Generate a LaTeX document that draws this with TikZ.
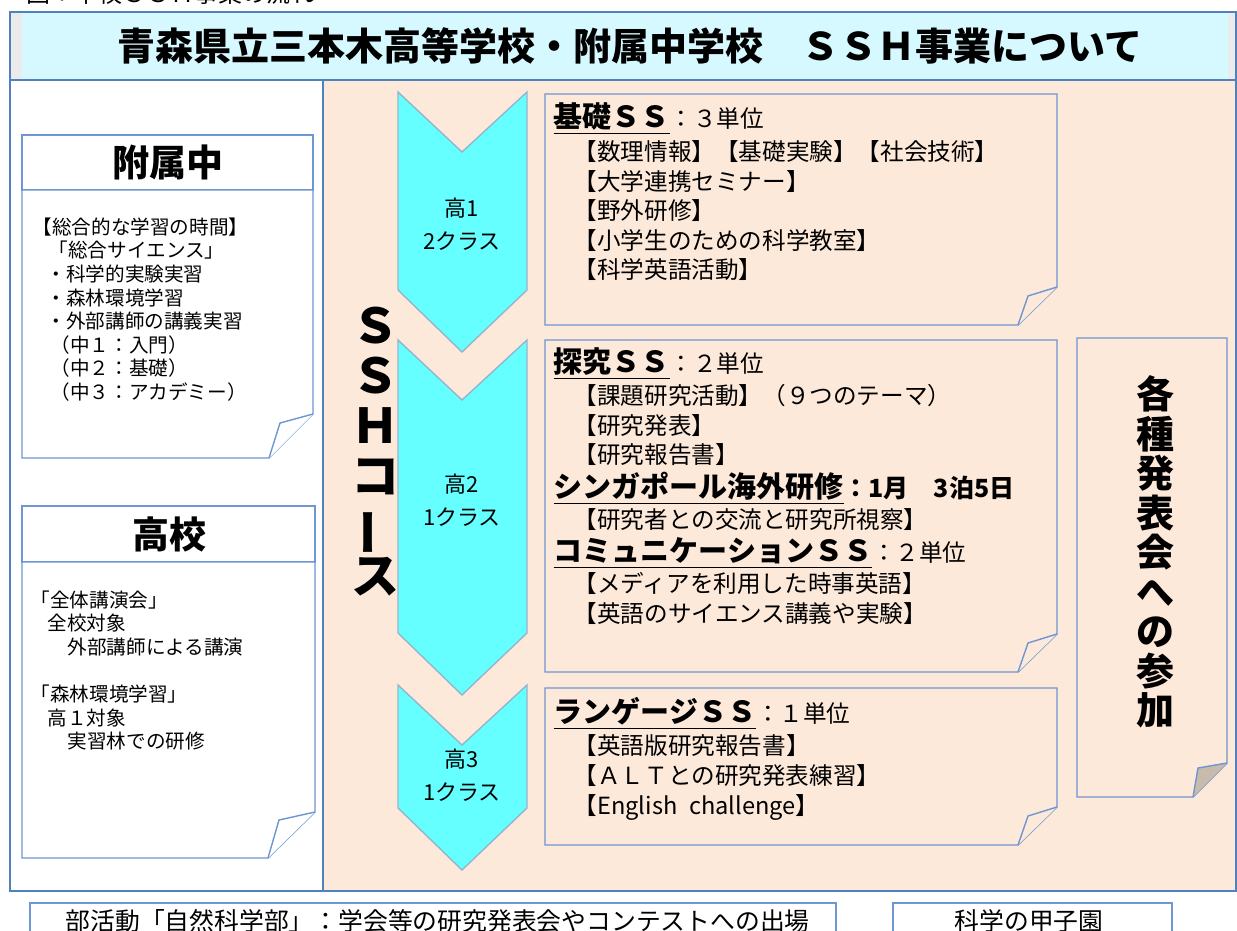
\documentclass[tikz,border=0pt]{standalone}
\usepackage{fontspec}
\setmainfont{Noto Sans CJK JP}
\usepackage{graphicx}
\usepackage{tikz}

\definecolor{peach}{RGB}{253,233,218}
\definecolor{titlecyan}{RGB}{214,249,255}
\definecolor{chevcyan}{RGB}{102,255,255}
\definecolor{chevline}{RGB}{150,180,205}
\definecolor{frameblue}{RGB}{79,129,189}
\definecolor{boxblue}{RGB}{110,150,210}
\definecolor{foldtan}{RGB}{200,186,172}

\tikzset{
  noteline/.style={draw=boxblue, line width=0.7pt},
  chevron/.style={fill=chevcyan, draw=chevline, line width=0.7pt},
  leftbody/.style={anchor=north west, align=left, inner sep=0pt, font=\fontsize{9.8}{11.8}\selectfont},
  rightbody/.style={anchor=north west, align=left, inner sep=0pt, font=\fontsize{11.8}{14.8}\selectfont},
  chevtext/.style={align=center, inner sep=0pt, font=\fontsize{11}{16.5}\selectfont},
  header/.style={inner sep=0pt, font=\fontsize{18.5}{20}\selectfont\bfseries},
}
\newcommand{\sshead}[1]{\underline{\fontsize{14.5}{14.8}\selectfont\bfseries #1}}

\begin{document}
\begin{tikzpicture}[x=0.5pt, y=-0.5pt, line width=0.7pt]
    \clip (0,0) rectangle (1237,931);
    \fill[white] (0,0) rectangle (1237,931);

    % caption, cut off at the top
    \node[anchor=base west, inner sep=0pt, font=\fontsize{12}{14}\selectfont] (caption) at (26,3) {図：本校ＳＳＨ事業の流れ};

    % draw title band
    \fill[titlecyan] (10,12) rectangle (1236,80);
    \fill[black!8] (10,12) rectangle (22,80);
    \fill[black!8] (1228,12) rectangle (1236,80);
    \draw[frameblue] (10,12) rectangle (1236,80);
    \node[inner sep=0pt, font=\fontsize{19}{22}\selectfont\bfseries] (title) at (630,46)
        {青森県立三本木高等学校・附属中学校　ＳＳＨ事業について};

    % draw panels
    \fill[white] (10,80) rectangle (323,891);
    \fill[peach] (323,80) rectangle (1236,891);
    \draw[frameblue] (10,80) rectangle (1236,891);
    \draw[frameblue] (323,80) -- (323,891);

    % draw left boxes
    \filldraw[noteline, fill=white] (22,135) rectangle (313,190);
    \filldraw[noteline, fill=white] (22,190) -- (313,190) -- (313,414) -- (269,458) -- (22,458) -- cycle;
    \filldraw[noteline, fill=white] (313,414) -- (280,423) -- (269,458);
    \node[header] (hdrjr) at (168,162) {附属中};
    \node[leftbody] (bodyjr) at (32,217) {%
        【総合的な学習の時間】\\
        \hspace*{8pt}「総合サイエンス」\\
        \hspace*{7pt}・科学的実験実習\\
        \hspace*{7pt}・森林環境学習\\
        \hspace*{7pt}・外部講師の講義実習\\
        \hspace*{9pt}（中１：入門）\\
        \hspace*{9pt}（中２：基礎）\\
        \hspace*{9pt}（中３：アカデミー）};

    \filldraw[noteline, fill=white] (22,506) rectangle (315,562);
    \filldraw[noteline, fill=white] (22,562) -- (315,562) -- (315,812) -- (268,858) -- (22,858) -- cycle;
    \filldraw[noteline, fill=white] (315,812) -- (279,820) -- (268,858);
    \node[header] (hdrhs) at (169,534) {高校};
    \node[leftbody] (bodyhs) at (30,590) {%
        「全体講演会」\\
        \hspace*{8.5pt}全校対象\\
        \hspace*{18.5pt}外部講師による講演\\
        \mbox{}\\
        「森林環境学習」\\
        \hspace*{8.5pt}高１対象\\
        \hspace*{18.5pt}実習林での研修};

    % draw chevrons
    \filldraw[chevron] (398,92) -- (462,152) -- (527,92) -- (527,290) -- (462,352) -- (398,290) -- cycle;
    \filldraw[chevron] (398,340) -- (462,400) -- (527,340) -- (527,633) -- (462,695) -- (398,633) -- cycle;
    \filldraw[chevron] (398,685) -- (462,745) -- (527,685) -- (527,808) -- (462,870) -- (398,808) -- cycle;
    \node[chevtext] (grade1) at (462,224) {高1\\2クラス};
    \node[chevtext] (grade2) at (462,500) {高2\\1クラス};
    \node[chevtext] (grade3) at (462,775) {高3\\1クラス};

    % vertical course label
    \node[align=center, inner sep=0pt, font=\fontsize{24}{25}\selectfont\bfseries] (sshcourse) at (375,452)
        {Ｓ\\Ｓ\\Ｈ\\コ\\\rotatebox[origin=c]{90}{ー}\\ス};

    % draw right boxes
    \filldraw[noteline, fill=peach] (545,94) -- (1057,94) -- (1057,287) -- (1018,325) -- (545,325) -- cycle;
    \filldraw[noteline, fill=peach] (1057,287) -- (1028,296) -- (1018,325);
    \node[rightbody] (kiso) at (553,102) {%
        \sshead{基礎ＳＳ}：３単位\\[1.7pt]
        \hspace*{10pt}【数理情報】【基礎実験】【社会技術】\\
        \hspace*{10pt}【大学連携セミナー】\\
        \hspace*{10pt}【野外研修】\\
        \hspace*{10pt}【小学生のための科学教室】\\
        \hspace*{10pt}【科学英語活動】};

    \filldraw[noteline, fill=peach] (545,340) -- (1057,340) -- (1057,634) -- (1018,672) -- (545,672) -- cycle;
    \filldraw[noteline, fill=peach] (1057,634) -- (1028,643) -- (1018,672);
    \node[rightbody] (tankyu) at (553,347) {%
        \sshead{探究ＳＳ}：２単位\\[1.2pt]
        \hspace*{10pt}【課題研究活動】（９つのテーマ）\\
        \hspace*{10pt}【研究発表】\\
        \hspace*{10pt}【研究報告書】\\[2.2pt]
        \sshead{シンガポール海外研修}{\fontsize{12.5}{14.8}\selectfont\bfseries ：1月　3泊5日}\\[0.7pt]
        \hspace*{10pt}【研究者との交流と研究所視察】\\[1.7pt]
        \sshead{コミュニケーションＳＳ}：２単位\\[0.7pt]
        \hspace*{10pt}【メディアを利用した時事英語】\\
        \hspace*{10pt}【英語のサイエンス講義や実験】};

    \filldraw[noteline, fill=peach] (545,688) -- (1057,688) -- (1057,807) -- (1018,845) -- (545,845) -- cycle;
    \filldraw[noteline, fill=peach] (1057,807) -- (1028,816) -- (1018,845);
    \node[rightbody] (lang) at (553,697) {%
        \sshead{ランゲージＳＳ}：１単位\\[1.2pt]
        \hspace*{10pt}【英語版研究報告書】\\
        \hspace*{10pt}【ＡＬＴとの研究発表練習】\\
        \hspace*{10pt}【English\enspace challenge】};

    \filldraw[noteline, fill=peach] (1077,338) -- (1227,338) -- (1227,763) -- (1193,797) -- (1077,797) -- cycle;
    \filldraw[noteline, fill=foldtan] (1227,763) -- (1198,768) -- (1193,797);
    \node[align=center, inner sep=0pt, font=\fontsize{19}{19.75}\selectfont\bfseries] (present) at (1155,552)
        {各\\種\\発\\表\\会\\へ\\の\\参\\加};

    % draw bottom boxes
    \draw[noteline] (30,903) rectangle (836,945);
    \draw[noteline] (893,903) rectangle (1172,945);
    \node[anchor=west, inner sep=0pt, font=\fontsize{12.4}{14}\selectfont] (club) at (65,921)
        {部活動「自然科学部」：学会等の研究発表会やコンテストへの出場};
    \node[inner sep=0pt, font=\fontsize{12.4}{14}\selectfont] (koshien) at (1029,921) {科学の甲子園};
\end{tikzpicture}
\end{document}
